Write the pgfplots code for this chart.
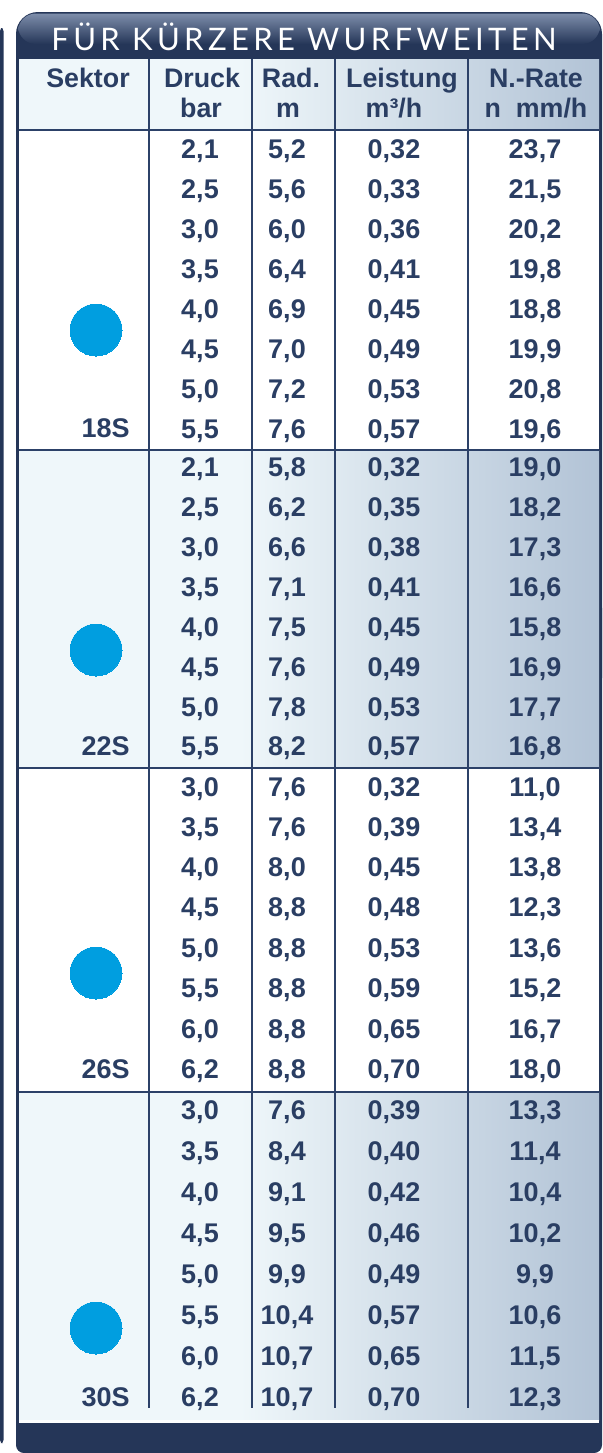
\documentclass[border=0pt]{standalone}
\usepackage{fontspec}
\setmainfont{Liberation Sans}
\newfontfamily\titlefont[LetterSpace=14]{Lato}
\usepackage{pgfplots}
\usepackage{pgfplotstable}
\pgfplotsset{compat=1.18}
\definecolor{navy}{RGB}{37,54,88}
\definecolor{txt}{RGB}{42,62,99}
\definecolor{divl}{RGB}{44,65,104}
\definecolor{lightbg}{RGB}{239,247,250}
\definecolor{gradR}{RGB}{178,195,214}
\definecolor{cblue}{RGB}{0,158,224}
\definecolor{hilite}{RGB}{125,141,170}

\pgfplotstableread{
y druck rad leist rate
158 2.1 5.2 0.32 23.7
198 2.5 5.6 0.33 21.5
238 3.0 6.0 0.36 20.2
278 3.5 6.4 0.41 19.8
318 4.0 6.9 0.45 18.8
358 4.5 7.0 0.49 19.9
398 5.0 7.2 0.53 20.8
438 5.5 7.6 0.57 19.6
476 2.1 5.8 0.32 19.0
516 2.5 6.2 0.35 18.2
556 3.0 6.6 0.38 17.3
596 3.5 7.1 0.41 16.6
636 4.0 7.5 0.45 15.8
676 4.5 7.6 0.49 16.9
716 5.0 7.8 0.53 17.7
755 5.5 8.2 0.57 16.8
796 3.0 7.6 0.32 11.0
836 3.5 7.6 0.39 13.4
876 4.0 8.0 0.45 13.8
916 4.5 8.8 0.48 12.3
957 5.0 8.8 0.53 13.6
997 5.5 8.8 0.59 15.2
1038 6.0 8.8 0.65 16.7
1078 6.2 8.8 0.70 18.0
1119 3.0 7.6 0.39 13.3
1160 3.5 8.4 0.40 11.4
1201 4.0 9.1 0.42 10.4
1242 4.5 9.5 0.46 10.2
1283 5.0 9.9 0.49 9.9
1324 5.5 10.4 0.57 10.6
1365 6.0 10.7 0.65 11.5
1406 6.2 10.7 0.70 12.3
}\data

\pgfplotstableread{
y lab
437 18S
755 22S
1078 26S
1406 30S
}\sektor

\pgfplotsset{
  numcol/.style={draw=none, mark=none, nodes near coords, point meta=explicit,
    every node near coord/.style={anchor=base, inner sep=0pt,
      font=\fontsize{13.5}{16}\selectfont\bfseries, text=txt,
      /pgf/number format/.cd, fixed, fixed zerofill, precision=#1, use comma,
      assume math mode=true}}
}
\tikzset{hdr/.style={anchor=base, inner sep=0pt, text=txt, font=\fontsize{13.4}{16}\selectfont\bfseries}}

\begin{document}
\begin{tikzpicture}
\begin{axis}[x=0.5pt, y=0.5pt, y dir=reverse, xmin=0, xmax=602, ymin=0, ymax=1453,
  hide axis, scale only axis, clip=false]
% canvas
\fill[white] (0,0) rectangle (602,1453);
% left bar
\fill[navy, rounded corners=1.5pt] (0,28) rectangle (3.5,1443);
% frame
\fill[navy, rounded corners=11pt] (16,12) rectangle (602,700);
\fill[navy, rounded corners=4pt] (16,600) rectangle (602,1453);
\shade[top color=hilite, bottom color=navy, rounded corners=9pt] (18,13.5) rectangle (600,44);
% header
\fill[lightbg] (19,59) rectangle (240,130);
\shade[left color=lightbg, right color=gradR] (240,59) rectangle (599,130);
% groups
\fill[white] (19,130) rectangle (599,450);
\fill[lightbg] (19,450) rectangle (240,768);
\shade[left color=lightbg, right color=gradR] (240,450) rectangle (599,768);
\fill[white] (19,768) rectangle (599,1092);
\fill[lightbg] (19,1092) rectangle (240,1420);
\shade[left color=lightbg, right color=gradR] (240,1092) rectangle (599,1420);
\fill[white!85!lightbg] (19,1420) rectangle (599,1422.5);
% lines
\draw[divl, line width=1pt] (19,130) -- (599,130);
\draw[divl, line width=1pt] (19,450) -- (599,450);
\draw[divl, line width=1pt] (19,768) -- (599,768);
\draw[divl, line width=1pt] (19,1092) -- (599,1092);
\draw[divl, line width=1.25pt] (149,59) -- (149,1408);
\draw[divl, line width=1.25pt] (252,59) -- (252,1408);
\draw[divl, line width=1.25pt] (335,59) -- (335,1408);
\draw[divl, line width=1.25pt] (468,59) -- (468,1408);
% title
\node[anchor=base, text=white, inner sep=0pt, font=\titlefont\fontsize{15.5}{18}\selectfont] at (304,50) {FÜR KÜRZERE WURFWEITEN};
% header text
\node[hdr] at (88,87) {Sektor};
\node[hdr] at (202,87) {Druck};
\node[hdr] at (201,117) {bar};
\node[hdr] at (291,87) {Rad.};
\node[hdr] at (288,117) {m};
\node[hdr] at (402,87) {Leistung};
\node[hdr] at (394,117) {m³/h};
\node[hdr] at (536,87) {N.-Rate};
\node[hdr] at (536,117) {n~~mm/h};
% circles
\addplot[only marks, mark=*, mark size=13pt, color=cblue, mark options={draw=cblue, fill=cblue, line width=0pt}]
  coordinates {(96,330) (96,650) (96,973) (96,1328)};
% values
\addplot[numcol=1] table[x expr=200, y=y, meta=druck] {\data};
\addplot[numcol=1] table[x expr=287, y=y, meta=rad] {\data};
\addplot[numcol=2] table[x expr=394, y=y, meta=leist] {\data};
\addplot[numcol=1] table[x expr=535, y=y, meta=rate] {\data};
\addplot[draw=none, mark=none, nodes near coords, point meta=explicit symbolic,
  every node near coord/.style={anchor=base east, inner sep=0pt,
    font=\fontsize{13.5}{16}\selectfont\bfseries, text=txt}]
  table[x expr=130, y=y, meta=lab] {\sektor};
\end{axis}
\end{tikzpicture}
\end{document}
